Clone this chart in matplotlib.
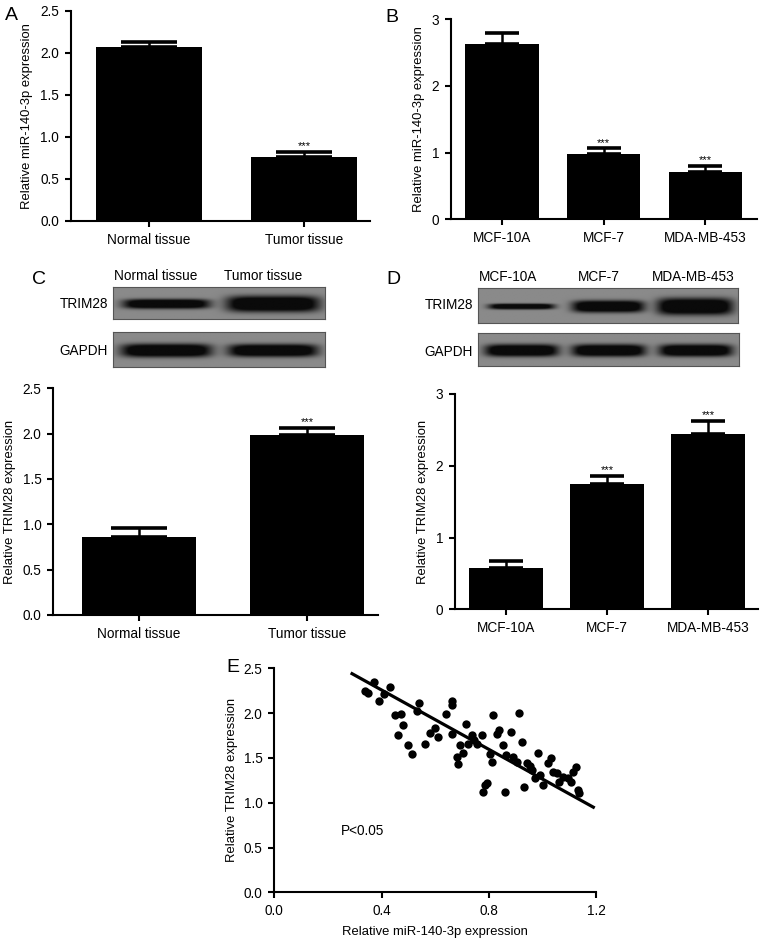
import numpy as np
import matplotlib
matplotlib.use("Agg")
import matplotlib.pyplot as plt

plt.rcParams['font.family'] = ['Liberation Sans', 'DejaVu Sans']

# ---------------- data ----------------
a_cats = ["Normal tissue", "Tumor tissue"]
a_vals = [2.07, 0.765]
a_errs = [0.06, 0.06]
a_stars = ["", "***"]

b_cats = ["MCF-10A", "MCF-7", "MDA-MB-453"]
b_vals = [2.63, 0.98, 0.715]
b_errs = [0.16, 0.085, 0.085]
b_stars = ["", "***", "***"]

c_cats = ["Normal tissue", "Tumor tissue"]
c_vals = [0.864, 1.985]
c_errs = [0.092, 0.082]
c_stars = ["", "***"]

d_cats = ["MCF-10A", "MCF-7", "MDA-MB-453"]
d_vals = [0.571, 1.742, 2.443]
d_errs = [0.102, 0.12, 0.186]
d_stars = ["", "***", "***"]

# western blot band strengths (relative darkness / thickness)
c_trim28 = [0.75, 1.25]
c_gapdh = [0.95, 0.9]
d_trim28 = [0.4, 0.85, 1.2]
d_gapdh = [0.92, 0.92, 0.92]

# scatter (panel E)
e_x = [0.338, 0.351, 0.372, 0.392, 0.409, 0.431, 0.450, 0.473, 0.481, 0.460,
       0.500, 0.512, 0.531, 0.541, 0.562, 0.581, 0.601, 0.612, 0.642, 0.662,
       0.664, 0.664, 0.680, 0.686, 0.693, 0.705, 0.715, 0.724, 0.736, 0.745,
       0.755, 0.773, 0.778, 0.786, 0.792, 0.805, 0.813, 0.814, 0.829, 0.839,
       0.852, 0.862, 0.864, 0.882, 0.892, 0.904, 0.913, 0.923, 0.931, 0.941,
       0.954, 0.962, 0.972, 0.982, 0.991, 1.003, 1.022, 1.032, 1.041, 1.053,
       1.063, 1.078, 1.097, 1.105, 1.115, 1.125, 1.134, 1.138]
e_y = [2.247, 2.228, 2.344, 2.135, 2.210, 2.295, 1.975, 1.990, 1.868, 1.760,
       1.641, 1.540, 2.028, 2.117, 1.659, 1.782, 1.834, 1.730, 1.994, 2.139,
       2.091, 1.763, 1.514, 1.432, 1.644, 1.551, 1.875, 1.652, 1.752, 1.700,
       1.652, 1.752, 1.124, 1.198, 1.224, 1.544, 1.451, 1.979, 1.763, 1.812,
       1.644, 1.124, 1.533, 1.789, 1.514, 1.458, 1.998, 1.674, 1.172, 1.440,
       1.414, 1.365, 1.272, 1.551, 1.310, 1.198, 1.440, 1.496, 1.347, 1.328,
       1.235, 1.291, 1.272, 1.235, 1.347, 1.403, 1.142, 1.105]
e_fit_x = [0.29, 1.19]
e_fit_y = [2.44, 0.95]
e_ptext = "P<0.05"

# ---------------- figure ----------------
W, H = 765, 942
fig = plt.figure(figsize=(W / 100, H / 100), dpi=100)


def ax_px(x0, y0, x1, y1):
    return fig.add_axes([x0 / W, 1 - y1 / H, (x1 - x0) / W, (y1 - y0) / H])


LW = 1.5
FS = 9.8
LFS = 9.4


def style(ax):
    for s in ("top", "right"):
        ax.spines[s].set_visible(False)
    for s in ("left", "bottom"):
        ax.spines[s].set_linewidth(LW)
    ax.tick_params(direction="out", length=4, width=LW, labelsize=FS, pad=4.5)


def bar_panel(ax, cats, vals, errs, stars, ymax, yticks, ylabel, width, xlim, capsize):
    x = np.arange(len(cats))
    ax.bar(x, vals, width=width, color="black", zorder=2)
    ax.errorbar(x, vals, yerr=[np.zeros(len(vals)), errs], fmt="none",
                ecolor="black", elinewidth=1.8, capsize=capsize, capthick=2.6, zorder=1)
    for xi, v, e, s in zip(x, vals, errs, stars):
        if s:
            ax.annotate(s, xy=(xi, v + e), xytext=(0, 0.5), textcoords="offset points",
                        ha="center", va="bottom", fontsize=8)
    ax.set_xlim(*xlim)
    ax.set_ylim(0, ymax)
    ax.set_yticks(yticks)
    ax.set_xticks(x)
    ax.set_xticklabels(cats)
    ax.set_ylabel(ylabel, fontsize=LFS, labelpad=5)
    style(ax)


def blot(ax, strengths, thick):
    h, w = 60, 400
    yy, xx = np.mgrid[0:h, 0:w]
    img = np.full((h, w), 0.54)
    n = len(strengths)
    lane_w = w / n
    acc = np.zeros((h, w))
    for i, s in enumerate(strengths):
        xc = lane_w * (i + 0.5)
        hw = lane_w * 0.43 * (0.8 + 0.2 * min(s, 1.1))
        th = thick * s
        yc = h * 0.52
        acc += np.exp(-np.abs((xx - xc) / hw) ** 6) * np.exp(-np.abs((yy - yc) / th) ** 3)
    acc = np.clip(acc * 1.4, 0, 1)
    img = img - (img - 0.04) * acc
    ax.imshow(img, cmap="gray", vmin=0, vmax=1, aspect="auto", interpolation="bilinear")
    ax.set_xticks([])
    ax.set_yticks([])
    for sp in ax.spines.values():
        sp.set_color("#555555")
        sp.set_linewidth(0.8)


# Panel A
axA = ax_px(71, 10.7, 370, 221)
bar_panel(axA, a_cats, a_vals, a_errs, a_stars, 2.5, [0, 0.5, 1.0, 1.5, 2.0, 2.5],
          "Relative miR-140-3p expression", 0.68, (-0.503, 1.426), 20)
axA.set_yticklabels(["0.0", "0.5", "1.0", "1.5", "2.0", "2.5"])
fig.text(5 / W, 1 - 16 / H, "A", fontsize=14, va="center", ha="left")

# Panel B
axB = ax_px(451, 19.3, 757, 219.3)
bar_panel(axB, b_cats, b_vals, b_errs, b_stars, 3, [0, 1, 2, 3],
          "Relative miR-140-3p expression", 0.72, (-0.5, 2.507), 12)
fig.text(385 / W, 1 - 18 / H, "B", fontsize=14, va="center", ha="left")

# Panel C blots
axCt = ax_px(113, 287, 325, 319)
blot(axCt, c_trim28, 12)
axCg = ax_px(113, 332, 325, 367)
blot(axCg, c_gapdh, 12)
fig.text(108 / W, 1 - 304 / H, "TRIM28", fontsize=FS, ha="right", va="center")
fig.text(108 / W, 1 - 351 / H, "GAPDH", fontsize=FS, ha="right", va="center")
for xc, lab in zip([156, 263], c_cats):
    fig.text(xc / W, 1 - 276 / H, lab, fontsize=FS, ha="center", va="center")
fig.text(32 / W, 1 - 280 / H, "C", fontsize=14, va="center", ha="left")

# Panel C bars
axC = ax_px(53.3, 388.3, 378, 615)
bar_panel(axC, c_cats, c_vals, c_errs, c_stars, 2.5, [0, 0.5, 1.0, 1.5, 2.0, 2.5],
          "Relative TRIM28 expression", 0.675, (-0.506, 1.418), 20)
axC.set_yticklabels(["0.0", "0.5", "1.0", "1.5", "2.0", "2.5"])

# Panel D blots
axDt = ax_px(478, 288, 738, 323)
blot(axDt, d_trim28, 12)
axDg = ax_px(478, 333, 739, 366)
blot(axDg, d_gapdh, 12)
fig.text(473 / W, 1 - 305 / H, "TRIM28", fontsize=FS, ha="right", va="center")
fig.text(473 / W, 1 - 352 / H, "GAPDH", fontsize=FS, ha="right", va="center")
for xc, lab in zip([508, 599, 693], d_cats):
    fig.text(xc / W, 1 - 277 / H, lab, fontsize=FS, ha="center", va="center")
fig.text(386 / W, 1 - 279 / H, "D", fontsize=14, va="center", ha="left")

# Panel D bars
axD = ax_px(455, 394, 758, 609.3)
bar_panel(axD, d_cats, d_vals, d_errs, d_stars, 3, [0, 1, 2, 3],
          "Relative TRIM28 expression", 0.73, (-0.505, 2.495), 12)

# Panel E
axE = ax_px(274.3, 668.3, 596, 892.3)
axE.scatter(e_x, e_y, s=36, color="black", zorder=3, linewidths=0)
axE.plot(e_fit_x, e_fit_y, color="black", lw=2.3, zorder=2)
axE.text(0.25, 0.68, e_ptext, fontsize=FS, ha="left", va="center")
axE.set_xlim(0, 1.2)
axE.set_ylim(0, 2.5)
axE.set_xticks([0, 0.4, 0.8, 1.2])
axE.set_xticklabels(["0.0", "0.4", "0.8", "1.2"])
axE.set_yticks([0, 0.5, 1.0, 1.5, 2.0, 2.5])
axE.set_yticklabels(["0.0", "0.5", "1.0", "1.5", "2.0", "2.5"])
axE.set_xlabel("Relative miR-140-3p expression", fontsize=LFS, labelpad=6)
axE.set_ylabel("Relative TRIM28 expression", fontsize=LFS, labelpad=4)
style(axE)
fig.text(226 / W, 1 - 668 / H, "E", fontsize=14, va="center", ha="left")

fig.savefig("out.png", dpi=100)
